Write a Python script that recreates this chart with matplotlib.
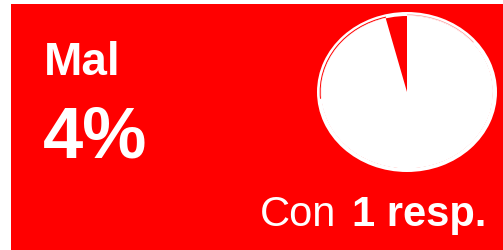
import matplotlib
matplotlib.use('Agg')
import matplotlib.pyplot as plt
from matplotlib.patches import Rectangle, Wedge, Arc

plt.rcParams['font.family'] = ['Liberation Sans', 'DejaVu Sans']

label = 'Mal'
share = 4  # percent
rest = 100 - share
n_resp = 1

RED = '#ff0000'
W, H = 503, 250

fig = plt.figure(figsize=(W / 100, H / 100), dpi=100)
fig.patch.set_facecolor('white')

# red card background, as an axes under everything else
bg = fig.add_axes([0, 0, 1, 1], zorder=0)
bg.set_xlim(0, W)
bg.set_ylim(H, 0)
bg.axis('off')
bg.add_patch(Rectangle((11, 4), W - 11, H - 4, color=RED, linewidth=0))

# pie
ax = fig.add_axes([317 / W, (H - 172) / H, 180 / W, 160 / H], zorder=1)
ax.pie([share, rest], colors=[RED, 'white'], startangle=90, counterclock=True,
       radius=0.955, wedgeprops=dict(linewidth=0))
ax.set_xlim(-1, 1)
ax.set_ylim(-1, 1)
ax.set_aspect('auto')
ax.axis('off')
ax.add_patch(Wedge((0, 0), 1.0, 0, 360, width=0.05, color='white', linewidth=0))
ax.add_patch(Arc((0, 0), 1.93, 1.93, theta1=104, theta2=185, color=RED, lw=0.7))
ax.add_patch(Arc((0, 0), 1.93, 1.93, theta1=40, theta2=90, color=RED, lw=0.5, alpha=0.4))

# texts
fig.text(44 / W, (H - 75) / H, label, color='white', fontsize=33, fontweight='bold', zorder=2)
fig.text(43 / W, (H - 157) / H, f'{share}%', color='white', fontsize=52, fontweight='bold', zorder=2)
fig.text(260 / W, (H - 226) / H, 'Con', color='white', fontsize=30, zorder=2)
fig.text(486 / W, (H - 226) / H, f'{n_resp} resp.', color='white', fontsize=30,
         fontweight='bold', ha='right', zorder=2)

fig.savefig('out.png', dpi=100, facecolor='white')
